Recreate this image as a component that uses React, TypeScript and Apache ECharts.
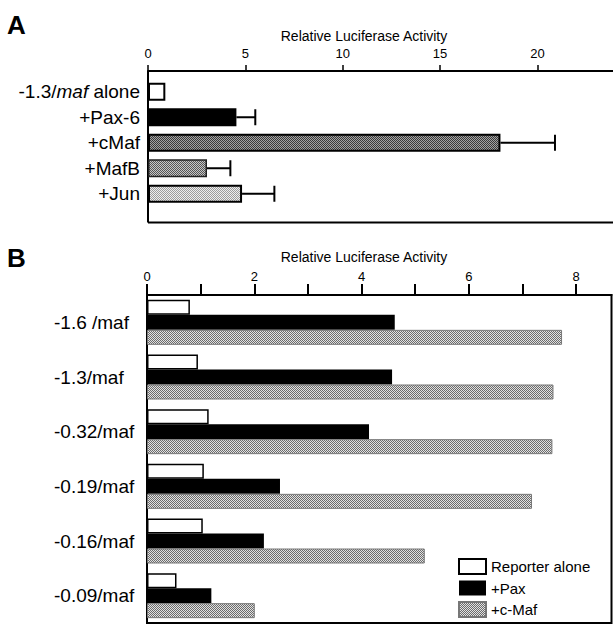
import React, { useEffect, useRef } from 'react';
import * as echarts from 'echarts';

// Panel A data
const catsA = ['-1.3/maf alone', '+Pax-6', '+cMaf', '+MafB', '+Jun'];
const valuesA = [0.89, 4.54, 18.1, 3.03, 4.83];
const errorsA = [0, 0.97, 2.8, 1.2, 1.66];
const ticksA = [0, 5, 10, 15, 20];

// Panel B data
const catsB = ['-1.6 /maf', '-1.3/maf', '-0.32/maf', '-0.19/maf', '-0.16/maf', '-0.09/maf'];
const reporterAlone = [0.8, 0.95, 1.15, 1.06, 1.04, 0.55];
const plusPax = [4.62, 4.57, 4.14, 2.48, 2.18, 1.2];
const plusCMaf = [7.74, 7.58, 7.56, 7.18, 5.18, 2.01];
const ticksB = [0, 1, 2, 3, 4, 5, 6, 7, 8];
const labelsB = [0, 2, 4, 6, 8];
const seriesNamesB = ['Reporter alone', '+Pax', '+c-Maf'];

const FONT = 'Liberation Sans, Arial, Helvetica, sans-serif';

function makePattern(dark: string, light: string) {
  const c = document.createElement('canvas');
  c.width = 2;
  c.height = 2;
  const ctx = c.getContext('2d')!;
  ctx.fillStyle = light;
  ctx.fillRect(0, 0, 2, 2);
  ctx.fillStyle = dark;
  ctx.fillRect(0, 0, 1, 1);
  ctx.fillRect(1, 1, 1, 1);
  return { image: c, repeat: 'repeat' } as any;
}

export default function App() {
  const ref = useRef<HTMLDivElement>(null);

  useEffect(() => {
    if (!ref.current) return;
    const chart = echarts.init(ref.current, undefined, { renderer: 'svg' });

    const patCMafA = makePattern('#3a3a3a', '#a2a2a2');
    const patMafB = makePattern('#555555', '#c6c6c6');
    const patJun = makePattern('#9c9c9c', '#eeeeee');
    const patB = makePattern('#6c6c6c', '#e2e2e2');

    const stylesA = [
      { color: '#ffffff', borderColor: '#000', borderWidth: 2 },
      { color: '#000000' },
      { color: patCMafA, borderColor: '#000', borderWidth: 2 },
      { color: patMafB, borderColor: '#222', borderWidth: 1.5 },
      { color: patJun, borderColor: '#000', borderWidth: 2 },
    ];

    const errData = valuesA
      .map((v, i) => (errorsA[i] > 0 ? [v, i, v + errorsA[i]] : null))
      .filter((d) => d !== null);

    const richA = {
      n: { fontSize: 19, color: '#000', fontFamily: FONT },
      i: { fontSize: 19, color: '#000', fontFamily: FONT, fontStyle: 'italic' },
    };

    const option: any = {
      animation: false,
      backgroundColor: '#ffffff',
      grid: [
        { left: 148, top: 79, width: 465, height: 127.5, containLabel: false },
        {
          left: 147,
          top: 295,
          width: 464.5,
          height: 328,
          show: true,
          borderColor: '#000',
          borderWidth: 2,
          backgroundColor: 'transparent',
        },
      ],
      xAxis: [
        {
          gridIndex: 0,
          type: 'value',
          position: 'top',
          offset: 8,
          min: 0,
          max: 23.88,
          axisLine: { show: true, lineStyle: { color: '#000', width: 2 } },
          axisTick: { show: true, length: 6, customValues: ticksA, lineStyle: { color: '#000', width: 1.5 } },
          axisLabel: { customValues: ticksA, fontSize: 13, color: '#000', margin: 11, fontFamily: FONT },
          splitLine: { show: false },
        },
        {
          gridIndex: 1,
          type: 'value',
          position: 'top',
          min: 0,
          max: 8.662,
          axisLine: { show: true, lineStyle: { color: '#000', width: 2 } },
          axisTick: { show: true, length: 11, customValues: ticksB, lineStyle: { color: '#000', width: 2 } },
          axisLabel: { customValues: labelsB, fontSize: 13, color: '#000', margin: 12, fontFamily: FONT },
          splitLine: { show: false },
        },
      ],
      yAxis: [
        {
          gridIndex: 0,
          type: 'category',
          data: catsA,
          inverse: true,
          axisLine: { show: false },
          axisTick: { show: false },
          axisLabel: {
            margin: 8,
            fontSize: 19,
            color: '#000',
            fontFamily: FONT,
            formatter: (v: string) =>
              v === '-1.3/maf alone' ? '{n|-1.3/}{i|maf}{n| alone}' : '{n|' + v + '}',
            rich: richA,
          },
        },
        {
          gridIndex: 1,
          type: 'category',
          data: catsB,
          inverse: true,
          axisLine: { show: true, lineStyle: { color: '#000', width: 2 } },
          axisTick: { show: false },
          axisLabel: { align: 'left', margin: 93, fontSize: 19, color: '#000', fontFamily: FONT },
        },
      ],
      legend: {
        data: seriesNamesB,
        orient: 'vertical',
        left: 458,
        top: 558,
        padding: 0,
        itemWidth: 27,
        itemHeight: 15,
        itemGap: 5.5,
        icon: 'rect',
        textStyle: { fontSize: 15, color: '#000', fontFamily: FONT },
      },
      series: [
        {
          type: 'bar',
          name: 'A',
          xAxisIndex: 0,
          yAxisIndex: 0,
          barWidth: 18,
          data: valuesA.map((v, i) => ({ value: v, itemStyle: stylesA[i] })),
        },
        {
          type: 'custom',
          name: 'Aerr',
          xAxisIndex: 0,
          yAxisIndex: 0,
          encode: { x: [0, 2], y: 1 },
          data: errData,
          z: 3,
          renderItem: (params: any, api: any) => {
            const y = api.value(1);
            const p0 = api.coord([api.value(0), y]);
            const p1 = api.coord([api.value(2), y]);
            return {
              type: 'group',
              children: [
                {
                  type: 'line',
                  shape: { x1: p0[0], y1: p0[1], x2: p1[0], y2: p1[1] },
                  style: { stroke: '#000', lineWidth: 2 },
                },
                {
                  type: 'line',
                  shape: { x1: p1[0], y1: p1[1] - 8, x2: p1[0], y2: p1[1] + 8 },
                  style: { stroke: '#000', lineWidth: 2 },
                },
              ],
            };
          },
        },
        {
          type: 'bar',
          name: seriesNamesB[0],
          xAxisIndex: 1,
          yAxisIndex: 1,
          barWidth: 15,
          barGap: '0%',
          itemStyle: { color: '#ffffff', borderColor: '#000', borderWidth: 1.5 },
          data: reporterAlone,
        },
        {
          type: 'bar',
          name: seriesNamesB[1],
          xAxisIndex: 1,
          yAxisIndex: 1,
          barWidth: 15,
          barGap: '0%',
          itemStyle: { color: '#000000' },
          data: plusPax,
        },
        {
          type: 'bar',
          name: seriesNamesB[2],
          xAxisIndex: 1,
          yAxisIndex: 1,
          barWidth: 15,
          barGap: '0%',
          itemStyle: { color: patB, borderColor: '#777', borderWidth: 1 },
          data: plusCMaf,
        },
      ],
      graphic: [
        {
          type: 'text',
          left: 7,
          top: 12,
          style: { text: 'A', fontSize: 26, fontWeight: 'bold', fontFamily: FONT, fill: '#000' },
        },
        {
          type: 'text',
          left: 7,
          top: 245,
          style: { text: 'B', fontSize: 26, fontWeight: 'bold', fontFamily: FONT, fill: '#000' },
        },
        {
          type: 'text',
          x: 364,
          y: 36,
          style: {
            text: 'Relative Luciferase Activity',
            fontSize: 14,
            fontFamily: FONT,
            fill: '#000',
            align: 'center',
            verticalAlign: 'middle',
          },
        },
        {
          type: 'text',
          x: 364,
          y: 257,
          style: {
            text: 'Relative Luciferase Activity',
            fontSize: 14,
            fontFamily: FONT,
            fill: '#000',
            align: 'center',
            verticalAlign: 'middle',
          },
        },
        {
          type: 'line',
          shape: { x1: 148, y1: 71, x2: 148, y2: 222.5 },
          style: { stroke: '#000', lineWidth: 2 },
        },
        {
          type: 'line',
          shape: { x1: 148, y1: 222.5, x2: 613, y2: 222.5 },
          style: { stroke: '#000', lineWidth: 2 },
        },
      ],
    };

    chart.setOption(option);
    return () => chart.dispose();
  }, []);

  return (
    <div
      ref={ref}
      style={{ position: 'fixed', left: 0, top: 0, width: 613, height: 625, background: '#fff' }}
    />
  );
}
